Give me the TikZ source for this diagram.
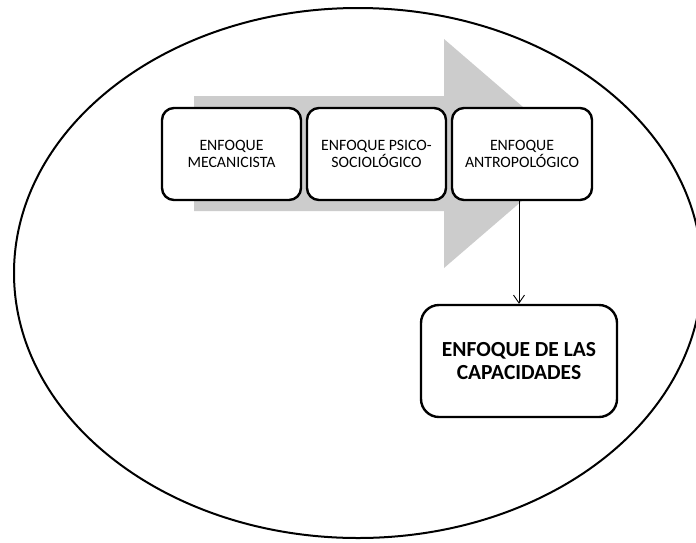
\documentclass[tikz,border=0pt]{standalone}
\usepackage{fontspec}
\setmainfont{Carlito}
\usetikzlibrary{arrows.meta}
\begin{document}
\begin{tikzpicture}[x=1pt,y=-1pt,
  box/.style={draw, line width=2.4pt, rounded corners=12pt, fill=white, align=center, inner sep=0pt,
    minimum width=139pt, minimum height=92pt, font=\fontsize{15.8}{17}\selectfont},
  bigbox/.style={draw, line width=2.4pt, rounded corners=18pt, fill=white, align=center, inner sep=0pt,
    minimum width=196pt, minimum height=112pt, font=\bfseries\fontsize{21.5}{22.5}\selectfont},
  conn/.style={line width=0.9pt, -{Straight Barb[length=8pt,width=11pt,line width=0.9pt]}}]
\useasboundingbox (0,0) rectangle (696,542);
\fill[white] (0,0) rectangle (696,542);
\draw[line width=2pt] (358,273) ellipse [x radius=344, y radius=265];
\fill[gray!40] (194,96) -- (444,96) -- (444,39) -- (577,153.5) -- (444,268) -- (444,211) -- (194,211) -- cycle;
\node[box] (b1) at (231.5,154) {ENFOQUE\\MECANICISTA};
\node[box] (b2) at (376.5,154) {ENFOQUE PSICO-\\SOCIOLÓGICO};
\node[box, minimum width=140pt] (b3) at (522,154) {ENFOQUE\\ANTROPOLÓGICO};
\node[bigbox] (b4) at (519,361) {ENFOQUE DE LAS\\CAPACIDADES};
\draw[conn] (b4.north |- b3.south) -- (b4.north);
\end{tikzpicture}
\end{document}
